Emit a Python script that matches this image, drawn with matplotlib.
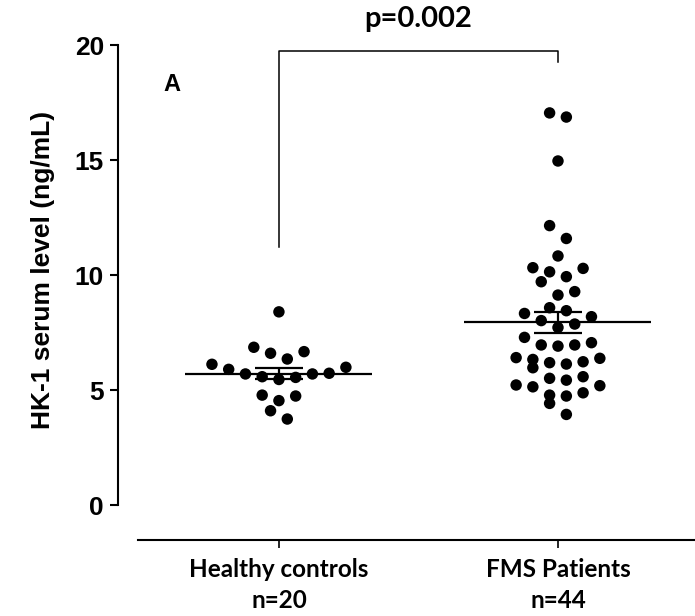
import numpy as np
import matplotlib
matplotlib.use('Agg')
import matplotlib.pyplot as plt

# values (ng/mL)
groups = ['Healthy controls\nn=20', 'FMS Patients\nn=44']
healthy = [8.40, 6.86, 6.60, 6.67, 6.35, 6.12, 5.99, 5.90, 5.70, 5.58, 5.46, 5.55,
           5.70, 5.73, 4.74, 4.78, 4.54, 4.10, 3.74]
fms = [17.05, 16.87, 14.96, 12.15, 11.59, 10.83, 10.29, 10.14, 10.32, 9.93, 9.71,
       9.13, 9.28, 8.45, 8.58, 8.33, 8.19, 7.87, 8.02, 7.72, 7.29, 6.96, 6.91, 6.96,
       7.06, 6.41, 6.33, 6.19, 6.13, 6.23, 5.97, 6.38, 5.58, 5.43, 5.51, 5.22, 5.14,
       5.19, 4.78, 4.74, 4.42, 4.88, 3.94]
means = [5.70, 7.94]
sems = [0.24, 0.47]
p_text = 'p=0.002'


def row_offsets(vals, row_h=0.67, step=0.06):
    # prism-like scatter: group sorted values into rows, spread each row from the centre out
    vals = np.asarray(vals)
    order = np.argsort(vals, kind='stable')
    rows, cur, start = [], [], None
    for i in order:
        if cur and vals[i] - start > row_h:
            rows.append(cur)
            cur = []
        if not cur:
            start = vals[i]
        cur.append(i)
    rows.append(cur)
    xs = np.zeros(len(vals))
    for r in rows:
        n = len(r)
        offs = sorted(np.arange(n) - (n - 1) / 2, key=lambda o: (abs(o), -o))
        for i, o in zip(r, offs):
            xs[i] = o * step
    return xs


fig = plt.figure(figsize=(6.95, 6.16), dpi=100, facecolor='white')
ax = fig.add_axes([138 / 695, 76 / 616, 557 / 695, 540 / 616])
ax.set_xlim(-0.505, 1.491)
ax.set_ylim(-1.52, 21.96)

for k, vals in enumerate([healthy, fms]):
    xs = k + row_offsets(vals)
    ax.scatter(xs, vals, s=68, c='black', edgecolors='none', zorder=3)
    ax.hlines(means[k], k - 0.335, k + 0.335, color='black', lw=1.6, zorder=4)
    ax.hlines([means[k] - sems[k], means[k] + sems[k]], k - 0.086, k + 0.086,
              color='black', lw=1.6, zorder=4)
    ax.vlines(k, means[k] - sems[k], means[k] + sems[k], color='black', lw=1.6, zorder=4)

# significance bracket
ax.plot([0, 0, 1, 1], [11.2, 19.74, 19.74, 19.26], color='black', lw=1.1)
ax.text(0.5, 21.15, p_text, ha='center', va='center', fontsize=21,
        fontweight='bold', family='Lato')
ax.text(-0.384, 18.3, 'A', ha='center', va='center', fontsize=17,
        fontweight='bold', family='Liberation Sans')

for s in ['top', 'right']:
    ax.spines[s].set_visible(False)
ax.spines['left'].set_position(('outward', 14.4))
ax.spines['left'].set_bounds(0, 20)
ax.spines['left'].set_linewidth(1.5)
ax.spines['bottom'].set_linewidth(1.5)

ax.set_yticks([0, 5, 10, 15, 20])
ax.set_xticks([0, 1])
ax.set_xticklabels(groups, fontsize=17.5, fontweight='bold', family='Lato', linespacing=1.4)
for t in ax.get_yticklabels():
    t.set_fontsize(19)
    t.set_fontweight('bold')
    t.set_family('Liberation Sans')
ax.tick_params(axis='y', length=6, width=1.5, pad=4)
ax.tick_params(axis='x', length=6, width=1.2, pad=7)
ax.set_ylabel('HK-1 serum level (ng/mL)', fontsize=19, fontweight='bold',
              family='Liberation Sans', labelpad=14)

fig.savefig('out.png', dpi=100)
